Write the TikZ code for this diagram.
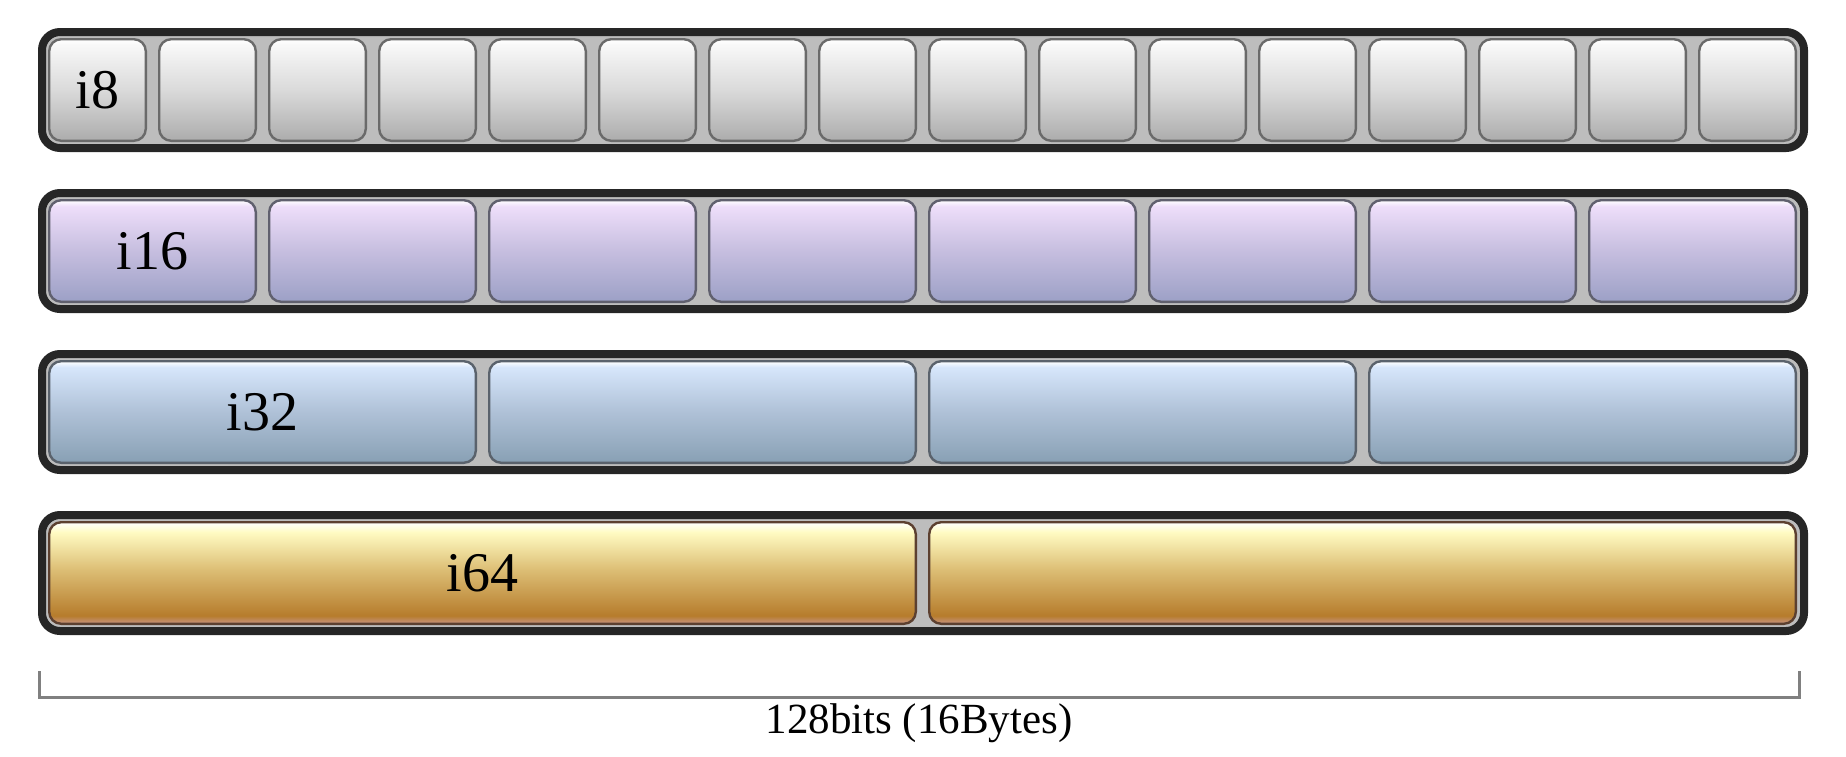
\documentclass[tikz,border=0pt]{standalone}
\usepackage{fontspec}
\setmainfont{Liberation Serif}

\definecolor{rim}{HTML}{262626}
\definecolor{tray}{HTML}{BDBDBD}
\definecolor{spangray}{HTML}{808080}
% lane colours, top / middle / bottom
\definecolor{top8}{HTML}{F8F8F8}   \definecolor{mid8}{HTML}{DADADA}   \definecolor{bot8}{HTML}{ACACAC}   \definecolor{edge8}{HTML}{6A6A6A}
\definecolor{top16}{HTML}{EEDEFA}  \definecolor{mid16}{HTML}{C6BEDF}  \definecolor{bot16}{HTML}{9CA0C6}  \definecolor{edge16}{HTML}{60606E}
\definecolor{top32}{HTML}{D6E6FB}  \definecolor{mid32}{HTML}{AFC1D7}  \definecolor{bot32}{HTML}{88A0B4}  \definecolor{edge32}{HTML}{5A626C}
\definecolor{top64}{HTML}{FFFBC2}  \definecolor{mid64}{HTML}{DDBF76}  \definecolor{bot64}{HTML}{B67C2C}  \definecolor{edge64}{HTML}{5C4030}
\definecolor{foot64}{HTML}{C89484}

\pgfdeclareverticalshading{lane8}{100bp}{color(0bp)=(bot8); color(25bp)=(bot8); color(50bp)=(mid8); color(72bp)=(top8); color(75bp)=(white); color(100bp)=(white)}
\pgfdeclareverticalshading{lane16}{100bp}{color(0bp)=(bot16); color(25bp)=(bot16); color(50bp)=(mid16); color(72bp)=(top16); color(75bp)=(white); color(100bp)=(white)}
\pgfdeclareverticalshading{lane32}{100bp}{color(0bp)=(bot32); color(25bp)=(bot32); color(50bp)=(mid32); color(72bp)=(top32); color(75bp)=(white); color(100bp)=(white)}
\pgfdeclareverticalshading{lane64}{100bp}{color(0bp)=(foot64); color(25bp)=(foot64); color(29bp)=(bot64); color(52bp)=(mid64); color(70bp)=(top64); color(75bp)=(white); color(100bp)=(white)}

\tikzset{
  register/.style={draw=rim, line width=4pt, fill=tray, rounded corners=9pt,
    minimum width=881pt, minimum height=58pt, inner sep=0pt},
  lane/.style={line width=1.2pt, rounded corners=6pt, minimum height=50.8pt,
    inner sep=0pt, font=\fontsize{28}{34}\selectfont},
  spanline/.style={draw=spangray, line width=1.5pt},
  spantext/.style={inner sep=0pt, font=\fontsize{21.5}{26}\selectfont}
}

\begin{document}
\begin{tikzpicture}[x=0.5pt, y=-0.5pt]
\useasboundingbox (0,0) rectangle (1846,756);

% draw the four registers and their lanes
\foreach \row/\n/\bits in {0/16/8, 1/8/16, 2/4/32, 3/2/64} {
  \node[register] (reg\bits) at (923, 90+161*\row) {};
  \pgfmathsetmacro\pitch{1760/\n}
  \pgfmathsetmacro\lanew{(\pitch-11)/2-1.2}
  \foreach \i in {1,...,\n} {
    \node[lane, shading=lane\bits, draw=edge\bits, minimum width=\lanew pt]
      (lane\bits-\i) at ({48+(\pitch-11)/2+\pitch*(\i-1)}, 90+161*\row) {\ifnum\i=1 i\bits\fi};
  }
}

% draw the width bracket
\coordinate (spanl) at (39,671);
\coordinate (spanr) at (1799,671);
\draw[spanline] (spanl) -- ++(0,26) -| (spanr);
\node[spantext, anchor=base] (span) at (919,733) {128bits (16Bytes)};

\end{tikzpicture}
\end{document}
